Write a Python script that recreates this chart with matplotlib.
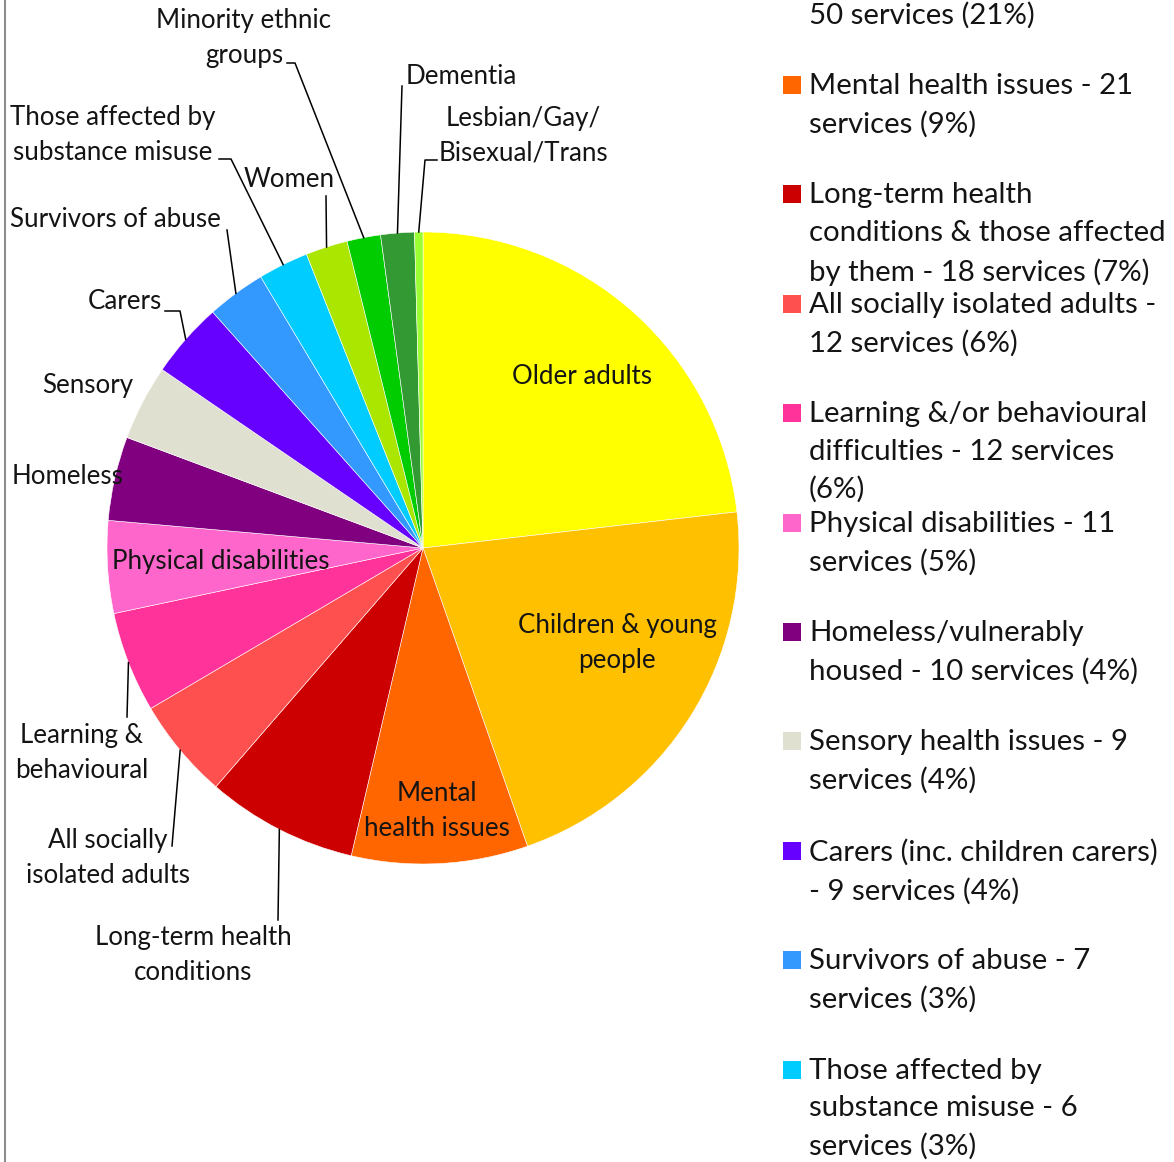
import matplotlib
matplotlib.use("Agg")
import numpy as np
import matplotlib.pyplot as plt
from matplotlib.lines import Line2D

plt.rcParams['font.family'] = ['Lato', 'DejaVu Sans']

# service counts per target group (clockwise from 12 o'clock)
groups = ["Older adults", "Children & young people", "Mental health issues",
          "Long-term health conditions", "All socially isolated adults",
          "Learning & behavioural", "Physical disabilities", "Homeless",
          "Sensory", "Carers", "Survivors of abuse",
          "Those affected by substance misuse", "Women",
          "Minority ethnic groups", "Dementia", "Lesbian/Gay/Bisexual/Trans"]
services = [54, 50, 21, 18, 12, 12, 11, 10, 9, 9, 7, 6, 5, 4, 4, 1]
colors = ["#FFFF00", "#FFC000", "#FF6600", "#CC0000", "#FF5050", "#FF3399",
          "#FF66CC", "#800080", "#E0E0D1", "#6600FF", "#3399FF", "#00CCFF",
          "#AAE600", "#00CC00", "#339933", "#99FF33"]

# legend entries (text as wrapped in the original)
legend_text = ["Older adults - 54 services\n(23%)",
               "Children & young people -\n50 services (21%)",
               "Mental health issues - 21\nservices (9%)",
               "Long-term health\nconditions & those affected\nby them - 18 services (7%)",
               "All socially isolated adults -\n12 services (6%)",
               "Learning &/or behavioural\ndifficulties - 12 services\n(6%)",
               "Physical disabilities - 11\nservices (5%)",
               "Homeless/vulnerably\nhoused - 10 services (4%)",
               "Sensory health issues - 9\nservices (4%)",
               "Carers (inc. children carers)\n- 9 services (4%)",
               "Survivors of abuse - 7\nservices (3%)",
               "Those affected by\nsubstance misuse - 6\nservices (3%)"]

# slice labels: text, centre (px), leader end (px), optional elbow (px)
slice_labels = {
    0: ("Older adults", (582, 377), None, None),
    1: ("Children & young\npeople", (617, 643), None, None),
    2: ("Mental\nhealth issues", (437, 811), None, None),
    3: ("Long-term health\nconditions", (193, 955), (278, 920), None),
    4: ("All socially\nisolated adults", (108, 858), (172, 846), None),
    5: ("Learning &\nbehavioural", (82, 753), (127, 717), None),
    6: ("Physical disabilities", (221, 561), None, None),
    7: ("Homeless", (68, 477), None, None),
    8: ("Sensory", (88, 385), None, None),
    9: ("Carers", (125, 301), (165, 311), (180, 311)),
    10: ("Survivors of abuse", (115, 219), (227, 230), None),
    11: ("Those affected by\nsubstance misuse", (113, 135), (219, 159), (231, 159)),
    12: ("Women", (289, 179), (326, 196), None),
    13: ("Minority ethnic\ngroups", (244, 38), (287, 63), (295, 63)),
    14: ("Dementia", (461, 76), (402, 86), None),
    15: ("Lesbian/Gay/\nBisexual/Trans", (523, 136), (437, 160), (425, 160)),
}

W, H = 1174, 1162
cx, cy, R = 423, 548, 316

fig = plt.figure(figsize=(W / 100, H / 100), dpi=100)
ax = fig.add_axes([(cx - R) / W, 1 - (cy + R) / H, 2 * R / W, 2 * R / H])


def to_data(px, py):
    return (px - cx) / R, (cy - py) / R


wedges, _ = ax.pie(services, colors=colors, startangle=90, counterclock=False,
                   radius=1, wedgeprops=dict(edgecolor="white", linewidth=0.4))
ax.set_xlim(-1, 1)
ax.set_ylim(-1, 1)
ax.set_aspect("equal")
ax.axis("off")

for i, (txt, pos, end, elbow) in slice_labels.items():
    tx, ty = to_data(*pos)
    ax.text(tx, ty, txt, ha="center", va="center", fontsize=18.6,
            color="#141414", linespacing=1.5, clip_on=False)
    if end is None:
        continue
    w = wedges[i]
    ang = np.deg2rad((w.theta1 + w.theta2) / 2)
    xs = [np.cos(ang)]
    ys = [np.sin(ang)]
    for p in (elbow, end):
        if p is not None:
            px, py = to_data(*p)
            xs.append(px)
            ys.append(py)
    ax.plot(xs, ys, color="black", lw=1.1, clip_on=False)

# legend drawn on the figure
step = 109.4
first_y = 85 - 2 * step
for k, txt in enumerate(legend_text):
    y0 = first_y + k * step
    fig.text(809 / W, 1 - (y0 - 12) / H, txt, ha="left", va="top",
             fontsize=21.2, color="#141414", linespacing=1.54)
    fig.patches.append(plt.Rectangle((783 / W, 1 - (y0 + 9) / H), 18 / W, 18 / H,
                                     transform=fig.transFigure,
                                     facecolor=colors[k], edgecolor="none"))

# left border of the chart area
fig.add_artist(Line2D([5 / W, 5 / W], [0, 1], color="#8c8c8c", lw=1.5))

fig.savefig("out.png", dpi=100)
